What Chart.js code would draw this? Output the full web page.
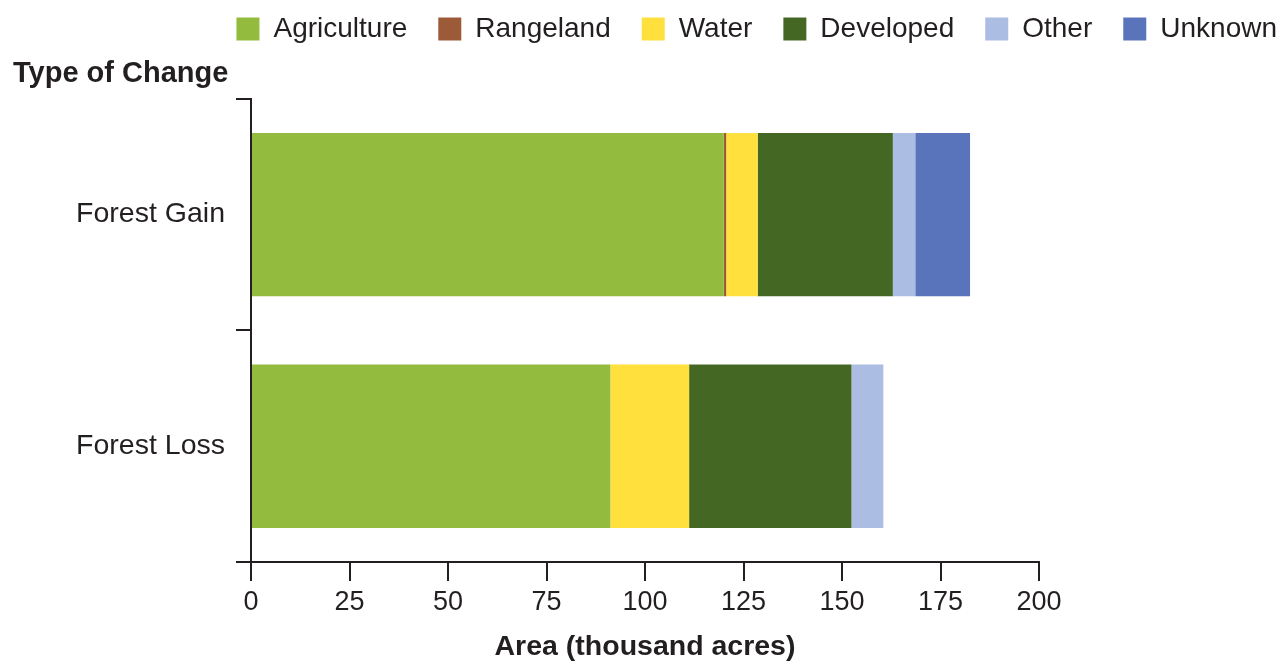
<!DOCTYPE html>
<html>
<head>
<meta charset="utf-8">
<script src="https://cdn.jsdelivr.net/npm/chart.js@4.4.1/dist/chart.umd.min.js"></script>
<style>
  html, body { margin: 0; padding: 0; background: #ffffff; }
  #wrap { width: 1281px; height: 662px; position: relative; }
</style>
</head>
<body>
<div id="wrap"><canvas id="c"></canvas></div>
<script>
const categories = ['Forest Gain', 'Forest Loss'];
const agriculture = [120.0, 91.2];
const rangeland = [0.6, 0];
const water = [8.0, 20.0];
const developed = [34.3, 41.2];
const other = [5.7, 8.1];
const unknown = [13.9, 0];
const xTicks = [0, 25, 50, 75, 100, 125, 150, 175, 200];
const seriesNames = ['Agriculture', 'Rangeland', 'Water', 'Developed', 'Other', 'Unknown'];
const yTitle = 'Type of Change';
const xTitle = 'Area (thousand acres)';

const colors = ['#93bb3d', '#9c5a38', '#ffe03d', '#446823', '#abbde2', '#5974ba'];
const seriesValues = [agriculture, rangeland, water, developed, other, unknown];
const INK = '#231f20';
const FONT = "'Liberation Sans', Arial, Helvetica, sans-serif";

Chart.defaults.font.family = FONT;
Chart.defaults.color = INK;

new Chart(document.getElementById('c'), {
  type: 'bar',
  data: {
    labels: categories,
    datasets: seriesNames.map((name, i) => ({
      label: name,
      data: seriesValues[i],
      backgroundColor: colors[i],
      borderWidth: 0,
      barPercentage: 0.705,
      categoryPercentage: 1.0
    }))
  },
  options: {
    indexAxis: 'y',
    responsive: true,
    maintainAspectRatio: false,
    animation: false,
    layout: { padding: { left: 13, right: -27, top: -16, bottom: 0 } },
    plugins: {
      legend: {
        display: true,
        position: 'top',
        align: 'end',
        weight: 3000,
        labels: {
          boxWidth: 23,
          boxHeight: 23,
          padding: 31,
          color: INK,
          font: { size: 28, family: FONT }
        }
      },
      title: {
        display: true,
        text: yTitle,
        align: 'start',
        position: 'top',
        weight: 500,
        color: INK,
        font: { size: 29, weight: 'bold', family: FONT, lineHeight: 1.2 },
        padding: { top: 4, bottom: 7 }
      },
      tooltip: { enabled: false }
    },
    scales: {
      x: {
        type: 'linear',
        stacked: true,
        min: 0,
        max: 200,
        afterBuildTicks: (s) => { s.ticks = xTicks.map(v => ({ value: v })); },
        ticks: {
          color: INK,
          padding: 5,
          font: { size: 27, family: FONT },
          maxRotation: 0
        },
        grid: {
          display: true,
          drawOnChartArea: false,
          drawTicks: true,
          tickLength: 19,
          lineWidth: 2,
          color: INK
        },
        border: { display: true, width: 2, color: INK },
        title: {
          display: true,
          text: xTitle,
          color: INK,
          font: { size: 28.5, weight: 'bold', family: FONT, lineHeight: 1 },
          padding: { top: 9, bottom: 1 }
        }
      },
      y: {
        type: 'category',
        stacked: true,
        afterFit: (s) => { s.width = 238; },
        ticks: {
          color: INK,
          padding: 11,
          font: { size: 28.5, family: FONT }
        },
        grid: {
          display: true,
          offset: true,
          drawOnChartArea: false,
          drawTicks: true,
          tickLength: 15,
          lineWidth: 2,
          color: INK
        },
        border: { display: true, width: 2, color: INK }
      },
      y2: {
        type: 'linear',
        position: 'right',
        display: true,
        afterFit: (s) => { s.width = 269; },
        ticks: { display: false },
        grid: { display: false },
        border: { display: false }
      }
    }
  }
});
</script>
</body>
</html>
